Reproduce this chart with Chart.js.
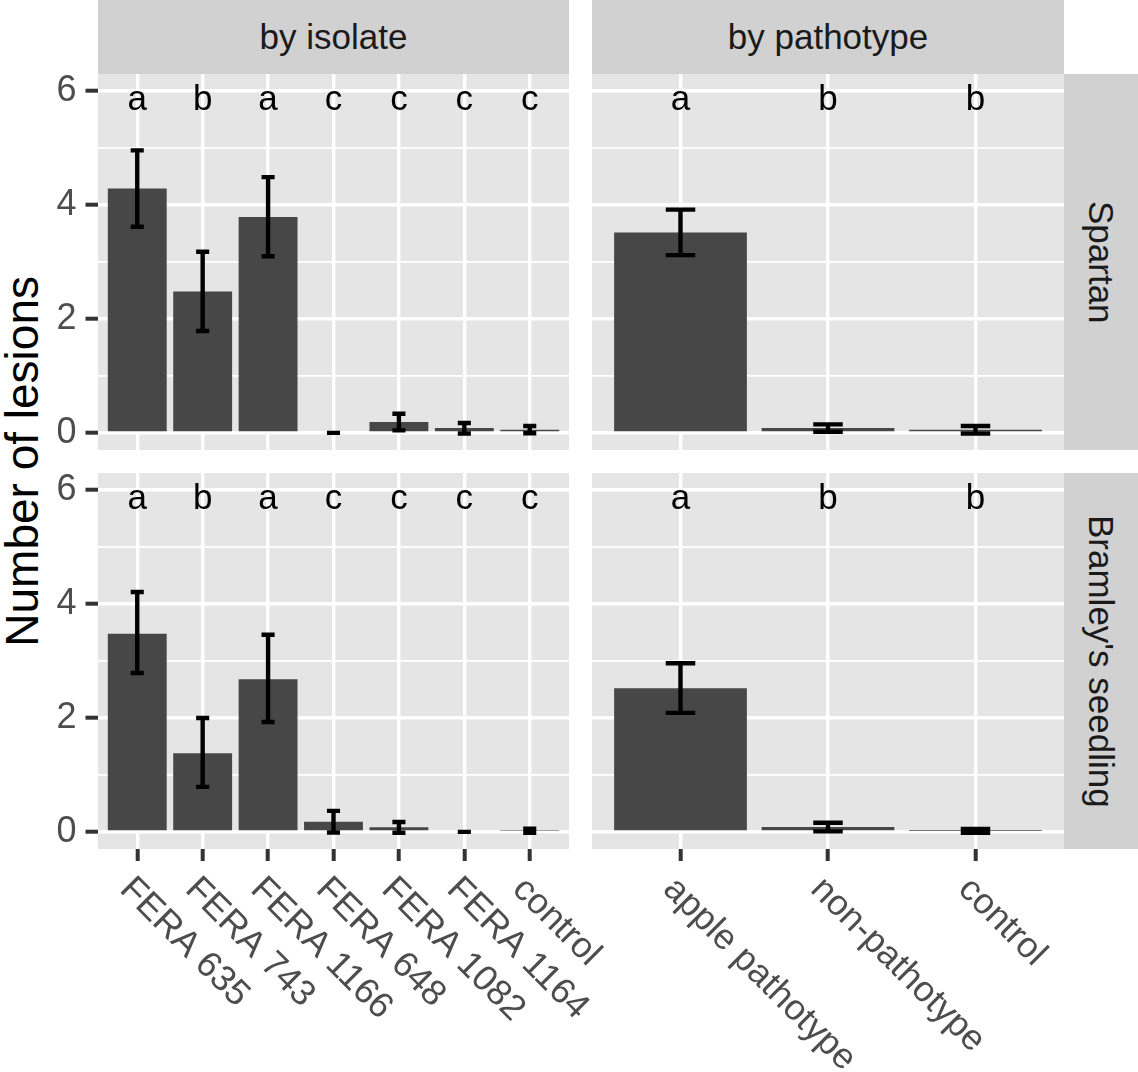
<!DOCTYPE html>
<html>
<head>
<meta charset="utf-8">
<script src="https://cdn.jsdelivr.net/npm/chart.js@4.4.1/dist/chart.umd.min.js"></script>
<style>
  body { margin: 0; background: #fff; }
  #fig { position: relative; width: 1138px; height: 1072px; overflow: hidden;
         font-family: "Liberation Sans", Arial, sans-serif; }
  .pane { position: absolute; }
  .strip { position: absolute; background: #D1D1D1; color: #1A1A1A; font-size: 35px;
           display: flex; align-items: center; justify-content: center; }
  .strip.side span { writing-mode: vertical-rl; }
  #ytitle { position: absolute; left: 0; top: 74px; width: 44px; height: 775px;
            display: flex; align-items: center; justify-content: center;
            font-size: 46px; color: #000; }
  #ytitle span { writing-mode: vertical-rl; transform: rotate(180deg); white-space: nowrap; }
</style>
</head>
<body>
<div id="fig">
  <div class="strip" style="left:98px;top:0;width:471px;height:74px">by isolate</div>
  <div class="strip" style="left:592px;top:0;width:472px;height:74px">by pathotype</div>
  <div class="strip side" style="left:1064px;top:74px;width:74px;height:376px"><span>Spartan</span></div>
  <div class="strip side" style="left:1064px;top:473px;width:74px;height:376px"><span>Bramley's seedling</span></div>
  <div id="ytitle"><span>Number of lesions</span></div>

  <div class="pane" style="left:0;top:74px"><canvas id="c11" width="569" height="376"></canvas></div>
  <div class="pane" style="left:592px;top:74px"><canvas id="c12" width="472" height="376"></canvas></div>
  <div class="pane" style="left:592px;top:473px"><canvas id="c22" width="546" height="599"></canvas></div>
  <div class="pane" style="left:0;top:473px"><canvas id="c21" width="640" height="599"></canvas></div>
</div>
<script>
// categories
const isolates = ['FERA 635', 'FERA 743', 'FERA 1166', 'FERA 648', 'FERA 1082', 'FERA 1164', 'control'];
const pathotypes = ['apple pathotype', 'non-pathotype', 'control'];

// Spartan, by isolate
const spartanIsoMean = [4.29, 2.48, 3.79, 0, 0.19, 0.084, 0.056];
const spartanIsoLow  = [3.62, 1.79, 3.10, 0, 0.045, -0.01, -0.005];
const spartanIsoHigh = [4.96, 3.18, 4.49, 0, 0.335, 0.175, 0.12];
const spartanIsoLetters = ['a', 'b', 'a', 'c', 'c', 'c', 'c'];

// Spartan, by pathotype
const spartanPathMean = [3.52, 0.085, 0.056];
const spartanPathLow  = [3.12, 0.02, -0.01];
const spartanPathHigh = [3.92, 0.15, 0.12];
const spartanPathLetters = ['a', 'b', 'b'];

// Bramley's seedling, by isolate
const bramleyIsoMean = [3.48, 1.38, 2.68, 0.18, 0.08, 0, 0.02];
const bramleyIsoLow  = [2.79, 0.79, 1.93, -0.01, -0.015, 0, -0.015];
const bramleyIsoHigh = [4.21, 2.00, 3.46, 0.37, 0.175, 0, 0.055];
const bramleyIsoLetters = ['a', 'b', 'a', 'c', 'c', 'c', 'c'];

// Bramley's seedling, by pathotype
const bramleyPathMean = [2.52, 0.085, 0.018];
const bramleyPathLow  = [2.09, 0.01, -0.017];
const bramleyPathHigh = [2.96, 0.16, 0.053];
const bramleyPathLetters = ['a', 'b', 'b'];

// y axis
const yTicks = [0, 1, 2, 3, 4, 5, 6];
const yMajor = [0, 2, 4, 6];
const yMin = -0.3, yMax = 6.3;
const letterY = 6;

const FONT = '"Liberation Sans", Arial, sans-serif';

function decor(cats, low, high, letters, showX) {
    return {
        id: 'decor',
        beforeDraw(chart) {
            const {ctx, chartArea: a} = chart;
            ctx.save();
            ctx.fillStyle = '#E5E5E5';
            ctx.fillRect(a.left, a.top, a.right - a.left, a.bottom - a.top);
            ctx.restore();
        },
        afterDatasetsDraw(chart) {
            const {ctx, chartArea: a} = chart;
            const xs = chart.scales.x, ys = chart.scales.y;
            ctx.save();
            // error bars
            ctx.strokeStyle = '#000';
            ctx.lineWidth = 4.4;
            cats.forEach((c, i) => {
                const xc = xs.getPixelForValue(i + 1);
                const xl = xs.getPixelForValue(i + 0.9);
                const xr = xs.getPixelForValue(i + 1.1);
                const yl = ys.getPixelForValue(low[i]);
                const yh = ys.getPixelForValue(high[i]);
                ctx.beginPath();
                ctx.moveTo(xl, yh); ctx.lineTo(xr, yh);
                ctx.moveTo(xc, yh); ctx.lineTo(xc, yl);
                ctx.moveTo(xl, yl); ctx.lineTo(xr, yl);
                ctx.stroke();
            });
            // group letters
            ctx.fillStyle = '#000';
            ctx.font = '35px ' + FONT;
            ctx.textAlign = 'center';
            ctx.textBaseline = 'alphabetic';
            letters.forEach((l, i) => {
                ctx.fillText(l, xs.getPixelForValue(i + 1), ys.getPixelForValue(letterY) + 19);
            });
            // rotated category labels
            if (showX) {
                ctx.fillStyle = '#4D4D4D';
                ctx.font = '36px ' + FONT;
                ctx.textAlign = 'left';
                ctx.textBaseline = 'top';
                cats.forEach((c, i) => {
                    ctx.save();
                    ctx.translate(xs.getPixelForValue(i + 1) + 1, a.bottom + 22);
                    ctx.rotate(Math.PI / 4);
                    ctx.fillText(c, 0, 0);
                    ctx.restore();
                });
            }
            ctx.restore();
        }
    };
}

function makePanel(id, cats, mean, low, high, letters, showY, showX, padRight) {
    const n = cats.length;
    return new Chart(document.getElementById(id), {
        type: 'bar',
        data: {
            datasets: [{
                data: mean.map((v, i) => ({x: i + 1, y: v})),
                backgroundColor: '#474747',
                borderWidth: 0,
                categoryPercentage: 1,
                barPercentage: 0.9
            }]
        },
        options: {
            responsive: false,
            animation: false,
            layout: {padding: {left: 0, top: 0, bottom: 0, right: padRight}},
            plugins: {legend: {display: false}, tooltip: {enabled: false}},
            scales: {
                x: {
                    type: 'linear',
                    offset: false,
                    min: 0.4,
                    max: n + 0.6,
                    afterBuildTicks: s => { s.ticks = cats.map((c, i) => ({value: i + 1})); },
                    afterFit: s => {
                        s.height = showX ? 223 : 0;
                        s.paddingLeft = s.paddingRight = s.paddingTop = s.paddingBottom = 0;
                    },
                    ticks: {display: false},
                    border: {display: false},
                    grid: {
                        offset: false,
                        color: '#FFFFFF',
                        lineWidth: 3.4,
                        drawTicks: showX,
                        tickLength: 12,
                        tickColor: '#333333',
                        tickWidth: 4
                    }
                },
                y: {
                    min: yMin,
                    max: yMax,
                    afterBuildTicks: s => { s.ticks = yTicks.map(v => ({value: v})); },
                    afterFit: s => {
                        s.width = showY ? 98 : 0;
                        s.paddingLeft = s.paddingRight = s.paddingTop = s.paddingBottom = 0;
                    },
                    ticks: {
                        display: showY,
                        padding: 9,
                        color: '#4D4D4D',
                        font: {family: FONT, size: 36},
                        callback: v => yMajor.includes(v) ? String(v) : ''
                    },
                    border: {display: false},
                    grid: {
                        color: '#FFFFFF',
                        lineWidth: c => (c.tick && yMajor.includes(c.tick.value)) ? 3.4 : 1.7,
                        drawTicks: showY,
                        tickLength: 12.5,
                        tickWidth: 4,
                        tickColor: c => (c.tick && yMajor.includes(c.tick.value)) ? '#333333' : 'rgba(0,0,0,0)'
                    }
                }
            }
        },
        plugins: [decor(cats, low, high, letters, showX)]
    });
}

makePanel('c11', isolates, spartanIsoMean, spartanIsoLow, spartanIsoHigh, spartanIsoLetters, true, false, 0);
makePanel('c12', pathotypes, spartanPathMean, spartanPathLow, spartanPathHigh, spartanPathLetters, false, false, 0);
makePanel('c21', isolates, bramleyIsoMean, bramleyIsoLow, bramleyIsoHigh, bramleyIsoLetters, true, true, 71);
makePanel('c22', pathotypes, bramleyPathMean, bramleyPathLow, bramleyPathHigh, bramleyPathLetters, false, true, 74);
</script>
</body>
</html>
